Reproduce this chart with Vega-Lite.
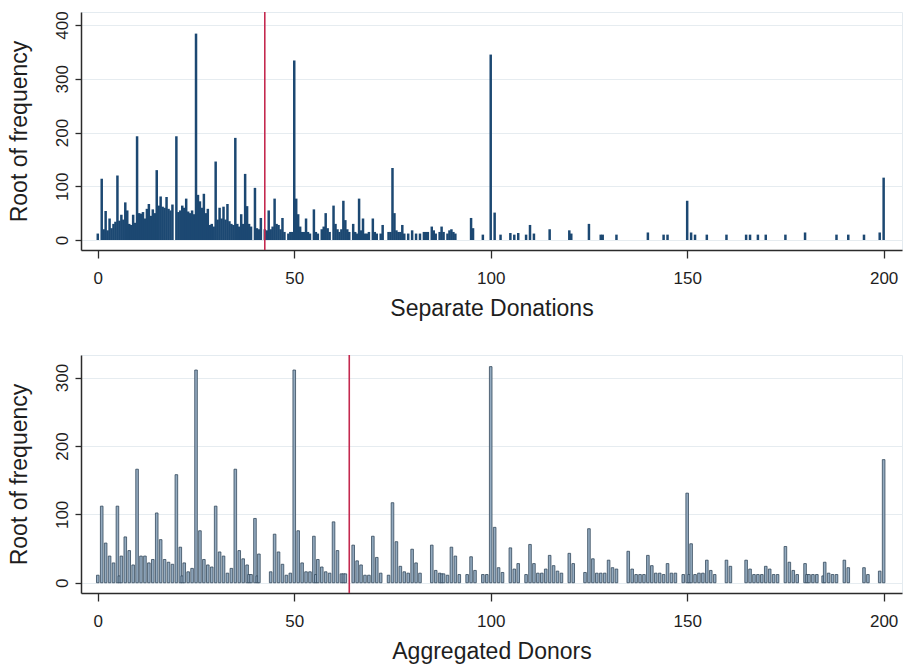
{
  "$schema": "https://vega.github.io/schema/vega-lite/v6.json",
  "padding": {"top": 10, "left": 7, "right": 8, "bottom": 5},
  "background": "white",
  "spacing": 32,
  "config": {
    "font": "Liberation Sans",
    "view": {"stroke": "#e4ebf0", "strokeWidth": 1},
    "axis": {
      "domainColor": "#2b2b2b", "domainWidth": 1.5,
      "tickColor": "#2b2b2b", "tickWidth": 1.3,
      "labelColor": "#1e1e1e", "titleColor": "#1e1e1e",
      "labelFontSize": 17, "titleFontSize": 23, "titleFontWeight": "normal",
      "gridColor": "#e6ecf0", "gridWidth": 1
    }
  },
  "datasets": {
    "separate": [
      {"amount":0,"root_freq":12},{"amount":1,"root_freq":114},{"amount":1.5,"root_freq":20},{"amount":2,"root_freq":54},{"amount":2.5,"root_freq":18},{"amount":3,"root_freq":40},{"amount":3.5,"root_freq":22},{"amount":4,"root_freq":30},{"amount":4.5,"root_freq":34},{"amount":5,"root_freq":120},{"amount":5.5,"root_freq":36},{"amount":6,"root_freq":47},{"amount":6.5,"root_freq":38},{"amount":7,"root_freq":70},{"amount":7.5,"root_freq":55},{"amount":8,"root_freq":30},{"amount":8.5,"root_freq":28},{"amount":9,"root_freq":47},{"amount":9.5,"root_freq":32},{"amount":10,"root_freq":193},{"amount":10.5,"root_freq":50},{"amount":11,"root_freq":49},{"amount":11.5,"root_freq":52},{"amount":12,"root_freq":40},{"amount":12.5,"root_freq":58},{"amount":13,"root_freq":67},{"amount":13.5,"root_freq":45},{"amount":14,"root_freq":57},{"amount":14.5,"root_freq":50},{"amount":15,"root_freq":130},{"amount":15.5,"root_freq":64},{"amount":16,"root_freq":81},{"amount":16.5,"root_freq":62},{"amount":17,"root_freq":60},{"amount":17.5,"root_freq":80},{"amount":18,"root_freq":58},{"amount":18.5,"root_freq":55},{"amount":19,"root_freq":66},{"amount":20,"root_freq":193},{"amount":20.5,"root_freq":52},{"amount":21,"root_freq":55},{"amount":21.5,"root_freq":64},{"amount":22,"root_freq":60},{"amount":22.5,"root_freq":77},{"amount":23,"root_freq":53},{"amount":23.5,"root_freq":50},{"amount":24,"root_freq":55},{"amount":24.5,"root_freq":48},{"amount":25,"root_freq":384},{"amount":25.5,"root_freq":84},{"amount":26,"root_freq":72},{"amount":26.5,"root_freq":60},{"amount":27,"root_freq":86},{"amount":27.5,"root_freq":50},{"amount":28,"root_freq":58},{"amount":28.5,"root_freq":28},{"amount":29,"root_freq":30},{"amount":29.5,"root_freq":25},{"amount":30,"root_freq":146},{"amount":30.5,"root_freq":38},{"amount":31,"root_freq":60},{"amount":31.5,"root_freq":40},{"amount":32,"root_freq":62},{"amount":32.5,"root_freq":38},{"amount":33,"root_freq":67},{"amount":33.5,"root_freq":35},{"amount":34,"root_freq":30},{"amount":34.5,"root_freq":28},{"amount":35,"root_freq":190},{"amount":35.5,"root_freq":30},{"amount":36,"root_freq":25},{"amount":36.5,"root_freq":48},{"amount":37,"root_freq":30},{"amount":37.5,"root_freq":123},{"amount":38,"root_freq":63},{"amount":38.5,"root_freq":30},{"amount":39,"root_freq":25},{"amount":40,"root_freq":97},{"amount":40.5,"root_freq":22},{"amount":41,"root_freq":20},{"amount":41.5,"root_freq":41},{"amount":42.5,"root_freq":20},{"amount":43,"root_freq":18},{"amount":43.5,"root_freq":55},{"amount":44,"root_freq":20},{"amount":44.5,"root_freq":25},{"amount":45,"root_freq":77},{"amount":45.5,"root_freq":30},{"amount":46,"root_freq":28},{"amount":46.5,"root_freq":20},{"amount":47,"root_freq":41},{"amount":47.5,"root_freq":15},{"amount":48.5,"root_freq":12},{"amount":49,"root_freq":15},{"amount":49.5,"root_freq":15},{"amount":50,"root_freq":334},{"amount":50.5,"root_freq":77},{"amount":51,"root_freq":48},{"amount":51.5,"root_freq":25},{"amount":52,"root_freq":15},{"amount":52.5,"root_freq":15},{"amount":53,"root_freq":40},{"amount":53.5,"root_freq":15},{"amount":54,"root_freq":12},{"amount":55,"root_freq":57},{"amount":55.5,"root_freq":15},{"amount":56,"root_freq":12},{"amount":57,"root_freq":20},{"amount":57.5,"root_freq":25},{"amount":58,"root_freq":50},{"amount":58.5,"root_freq":22},{"amount":59,"root_freq":15},{"amount":60,"root_freq":64},{"amount":60.5,"root_freq":30},{"amount":61,"root_freq":20},{"amount":61.5,"root_freq":15},{"amount":62,"root_freq":20},{"amount":62.5,"root_freq":73},{"amount":63,"root_freq":37},{"amount":63.5,"root_freq":20},{"amount":64,"root_freq":15},{"amount":65,"root_freq":30},{"amount":65.5,"root_freq":15},{"amount":66,"root_freq":12},{"amount":66.5,"root_freq":77},{"amount":67,"root_freq":18},{"amount":67.5,"root_freq":40},{"amount":68,"root_freq":12},{"amount":68.5,"root_freq":12},{"amount":69,"root_freq":15},{"amount":70,"root_freq":40},{"amount":70.5,"root_freq":15},{"amount":71,"root_freq":12},{"amount":72,"root_freq":12},{"amount":72.5,"root_freq":28},{"amount":74,"root_freq":15},{"amount":74.5,"root_freq":15},{"amount":75,"root_freq":134},{"amount":75.5,"root_freq":50},{"amount":76,"root_freq":18},{"amount":76.5,"root_freq":15},{"amount":77,"root_freq":15},{"amount":77.5,"root_freq":28},{"amount":78,"root_freq":12},{"amount":79,"root_freq":12},{"amount":80,"root_freq":18},{"amount":81,"root_freq":12},{"amount":82,"root_freq":12},{"amount":83,"root_freq":15},{"amount":83.5,"root_freq":15},{"amount":84,"root_freq":15},{"amount":85,"root_freq":25},{"amount":85.5,"root_freq":18},{"amount":86,"root_freq":12},{"amount":87,"root_freq":15},{"amount":87.5,"root_freq":25},{"amount":88,"root_freq":15},{"amount":89,"root_freq":12},{"amount":89.5,"root_freq":18},{"amount":90,"root_freq":20},{"amount":90.5,"root_freq":15},{"amount":91,"root_freq":12},{"amount":95,"root_freq":41},{"amount":95.5,"root_freq":22},{"amount":98,"root_freq":10},{"amount":100,"root_freq":345},{"amount":101,"root_freq":51},{"amount":102.5,"root_freq":10},{"amount":105,"root_freq":13},{"amount":106,"root_freq":10},{"amount":107,"root_freq":13},{"amount":109,"root_freq":10},{"amount":110,"root_freq":28},{"amount":111,"root_freq":12},{"amount":115,"root_freq":20},{"amount":120,"root_freq":18},{"amount":120.5,"root_freq":12},{"amount":125,"root_freq":30},{"amount":128,"root_freq":10},{"amount":128.5,"root_freq":10},{"amount":132,"root_freq":10},{"amount":140,"root_freq":14},{"amount":144,"root_freq":10},{"amount":145,"root_freq":10},{"amount":150,"root_freq":73},{"amount":151,"root_freq":14},{"amount":152,"root_freq":10},{"amount":155,"root_freq":10},{"amount":160,"root_freq":10},{"amount":165,"root_freq":10},{"amount":166,"root_freq":10},{"amount":168,"root_freq":10},{"amount":170,"root_freq":10},{"amount":175,"root_freq":10},{"amount":180,"root_freq":14},{"amount":188,"root_freq":10},{"amount":191,"root_freq":10},{"amount":195,"root_freq":10},{"amount":199,"root_freq":14},{"amount":200,"root_freq":116}
    ],
    "aggregated": [
      {"amount":0,"root_freq":11},{"amount":1,"root_freq":112},{"amount":2,"root_freq":58},{"amount":3,"root_freq":39},{"amount":4,"root_freq":29},{"amount":5,"root_freq":112},{"amount":5.5,"root_freq":10},{"amount":6,"root_freq":39},{"amount":7,"root_freq":67},{"amount":8,"root_freq":47},{"amount":9,"root_freq":26},{"amount":10,"root_freq":166},{"amount":11,"root_freq":39},{"amount":12,"root_freq":39},{"amount":13,"root_freq":29},{"amount":14,"root_freq":34},{"amount":15,"root_freq":102},{"amount":16,"root_freq":63},{"amount":17,"root_freq":34},{"amount":18,"root_freq":30},{"amount":19,"root_freq":27},{"amount":20,"root_freq":158},{"amount":21,"root_freq":52},{"amount":21.5,"root_freq":10},{"amount":22,"root_freq":29},{"amount":23,"root_freq":16},{"amount":24,"root_freq":21},{"amount":25,"root_freq":311},{"amount":26,"root_freq":76},{"amount":27,"root_freq":34},{"amount":28,"root_freq":26},{"amount":29,"root_freq":23},{"amount":30,"root_freq":112},{"amount":31,"root_freq":45},{"amount":32,"root_freq":39},{"amount":33,"root_freq":14},{"amount":34,"root_freq":21},{"amount":35,"root_freq":166},{"amount":36,"root_freq":47},{"amount":37,"root_freq":35},{"amount":38,"root_freq":26},{"amount":38.5,"root_freq":12},{"amount":39,"root_freq":12},{"amount":40,"root_freq":94},{"amount":40.6,"root_freq":10},{"amount":41,"root_freq":42},{"amount":44,"root_freq":16},{"amount":45,"root_freq":71},{"amount":46,"root_freq":45},{"amount":47,"root_freq":27},{"amount":48,"root_freq":11},{"amount":49,"root_freq":14},{"amount":50,"root_freq":311},{"amount":51,"root_freq":76},{"amount":52,"root_freq":29},{"amount":53,"root_freq":16},{"amount":54,"root_freq":16},{"amount":55,"root_freq":68},{"amount":55.5,"root_freq":12},{"amount":56,"root_freq":34},{"amount":57,"root_freq":23},{"amount":58,"root_freq":16},{"amount":59,"root_freq":14},{"amount":60,"root_freq":89},{"amount":61,"root_freq":47},{"amount":62,"root_freq":13},{"amount":62.5,"root_freq":13},{"amount":63,"root_freq":13},{"amount":65,"root_freq":55},{"amount":66,"root_freq":32},{"amount":67,"root_freq":26},{"amount":68,"root_freq":11},{"amount":69,"root_freq":11},{"amount":70,"root_freq":68},{"amount":71,"root_freq":37},{"amount":72,"root_freq":14},{"amount":74,"root_freq":11},{"amount":75,"root_freq":117},{"amount":76,"root_freq":60},{"amount":77,"root_freq":24},{"amount":78,"root_freq":16},{"amount":79,"root_freq":14},{"amount":80,"root_freq":49},{"amount":81,"root_freq":29},{"amount":82,"root_freq":14},{"amount":85,"root_freq":55},{"amount":86,"root_freq":18},{"amount":87,"root_freq":14},{"amount":87.5,"root_freq":13},{"amount":88,"root_freq":13},{"amount":89,"root_freq":11},{"amount":90,"root_freq":52},{"amount":91,"root_freq":39},{"amount":92,"root_freq":12},{"amount":94,"root_freq":12},{"amount":95,"root_freq":38},{"amount":96,"root_freq":18},{"amount":98,"root_freq":12},{"amount":99,"root_freq":12},{"amount":100,"root_freq":316},{"amount":101,"root_freq":81},{"amount":102,"root_freq":22},{"amount":103,"root_freq":15},{"amount":105,"root_freq":51},{"amount":106,"root_freq":20},{"amount":107,"root_freq":28},{"amount":109,"root_freq":12},{"amount":110,"root_freq":56},{"amount":111,"root_freq":28},{"amount":112,"root_freq":14},{"amount":113,"root_freq":14},{"amount":114,"root_freq":20},{"amount":115,"root_freq":40},{"amount":116,"root_freq":25},{"amount":117,"root_freq":17},{"amount":118,"root_freq":14},{"amount":120,"root_freq":43},{"amount":121,"root_freq":28},{"amount":124,"root_freq":15},{"amount":125,"root_freq":79},{"amount":126,"root_freq":35},{"amount":127,"root_freq":14},{"amount":128,"root_freq":14},{"amount":129,"root_freq":14},{"amount":130,"root_freq":33},{"amount":131,"root_freq":22},{"amount":132,"root_freq":20},{"amount":135,"root_freq":46},{"amount":136,"root_freq":20},{"amount":137,"root_freq":12},{"amount":138,"root_freq":12},{"amount":139,"root_freq":12},{"amount":140,"root_freq":40},{"amount":141,"root_freq":25},{"amount":142,"root_freq":14},{"amount":143,"root_freq":14},{"amount":144,"root_freq":12},{"amount":145,"root_freq":28},{"amount":146,"root_freq":14},{"amount":147,"root_freq":14},{"amount":149,"root_freq":12},{"amount":150,"root_freq":131},{"amount":150.5,"root_freq":12},{"amount":151,"root_freq":57},{"amount":152,"root_freq":12},{"amount":153,"root_freq":14},{"amount":154,"root_freq":14},{"amount":155,"root_freq":33},{"amount":156,"root_freq":18},{"amount":157,"root_freq":12},{"amount":160,"root_freq":33},{"amount":161,"root_freq":24},{"amount":165,"root_freq":33},{"amount":166,"root_freq":20},{"amount":167,"root_freq":12},{"amount":168,"root_freq":12},{"amount":169,"root_freq":12},{"amount":170,"root_freq":24},{"amount":171,"root_freq":20},{"amount":172,"root_freq":12},{"amount":173,"root_freq":12},{"amount":175,"root_freq":53},{"amount":176,"root_freq":30},{"amount":177,"root_freq":18},{"amount":178,"root_freq":12},{"amount":180,"root_freq":28},{"amount":180.5,"root_freq":12},{"amount":181,"root_freq":12},{"amount":182,"root_freq":12},{"amount":183,"root_freq":12},{"amount":184.6,"root_freq":10},{"amount":185,"root_freq":30},{"amount":186,"root_freq":14},{"amount":187,"root_freq":12},{"amount":188,"root_freq":12},{"amount":190,"root_freq":33},{"amount":191,"root_freq":22},{"amount":195,"root_freq":22},{"amount":196,"root_freq":12},{"amount":199,"root_freq":17},{"amount":200,"root_freq":180}
    ]
  },
  "vconcat": [
    {
      "width": 821,
      "height": 238,
      "layer": [
        {
          "data": {"name": "separate"},
          "mark": {"type": "bar", "width": 2.5, "color": "#1c4872"},
          "encoding": {
            "x": {"field": "amount", "type": "quantitative", "title": "Separate Donations",
                  "scale": {"domain": [-3, 203.4], "nice": false, "zero": false},
                  "axis": {"values": [0, 50, 100, 150, 200], "grid": false, "tickSize": 8, "labelPadding": 12, "titlePadding": 11, "labelFlush": false}},
            "y": {"field": "root_freq", "type": "quantitative", "title": "Root of frequency",
                  "scale": {"domain": [-18.6, 424.2], "nice": false, "zero": false},
                  "axis": {"values": [0, 100, 200, 300, 400], "grid": true, "tickSize": 6, "labelAngle": 270, "labelAlign": "center", "labelBaseline": "bottom", "labelPadding": 4, "titlePadding": 22}}
          }
        },
        {
          "data": {"values": [{"mean": 42.5}]},
          "mark": {"type": "rule", "color": "#c4294f", "strokeWidth": 1.6},
          "encoding": {"x": {"field": "mean", "type": "quantitative", "title": "Separate Donations"}}
        }
      ]
    },
    {
      "width": 821,
      "height": 238,
      "layer": [
        {
          "data": {"name": "aggregated"},
          "mark": {"type": "bar", "width": 2.6, "fill": "#94abc0", "stroke": "#34495c", "strokeWidth": 0.8},
          "encoding": {
            "x": {"field": "amount", "type": "quantitative", "title": "Aggregated Donors",
                  "scale": {"domain": [-3, 203.4], "nice": false, "zero": false},
                  "axis": {"values": [0, 50, 100, 150, 200], "grid": false, "tickSize": 8, "labelPadding": 12, "titlePadding": 11, "labelFlush": false}},
            "y": {"field": "root_freq", "type": "quantitative", "title": "Root of frequency",
                  "scale": {"domain": [-15, 333], "nice": false, "zero": false},
                  "axis": {"values": [0, 100, 200, 300], "grid": true, "tickSize": 6, "labelAngle": 270, "labelAlign": "center", "labelBaseline": "bottom", "labelPadding": 4, "titlePadding": 22}}
          }
        },
        {
          "data": {"values": [{"mean": 64}]},
          "mark": {"type": "rule", "color": "#c4294f", "strokeWidth": 1.6},
          "encoding": {"x": {"field": "mean", "type": "quantitative", "title": "Aggregated Donors"}}
        }
      ]
    }
  ]
}
